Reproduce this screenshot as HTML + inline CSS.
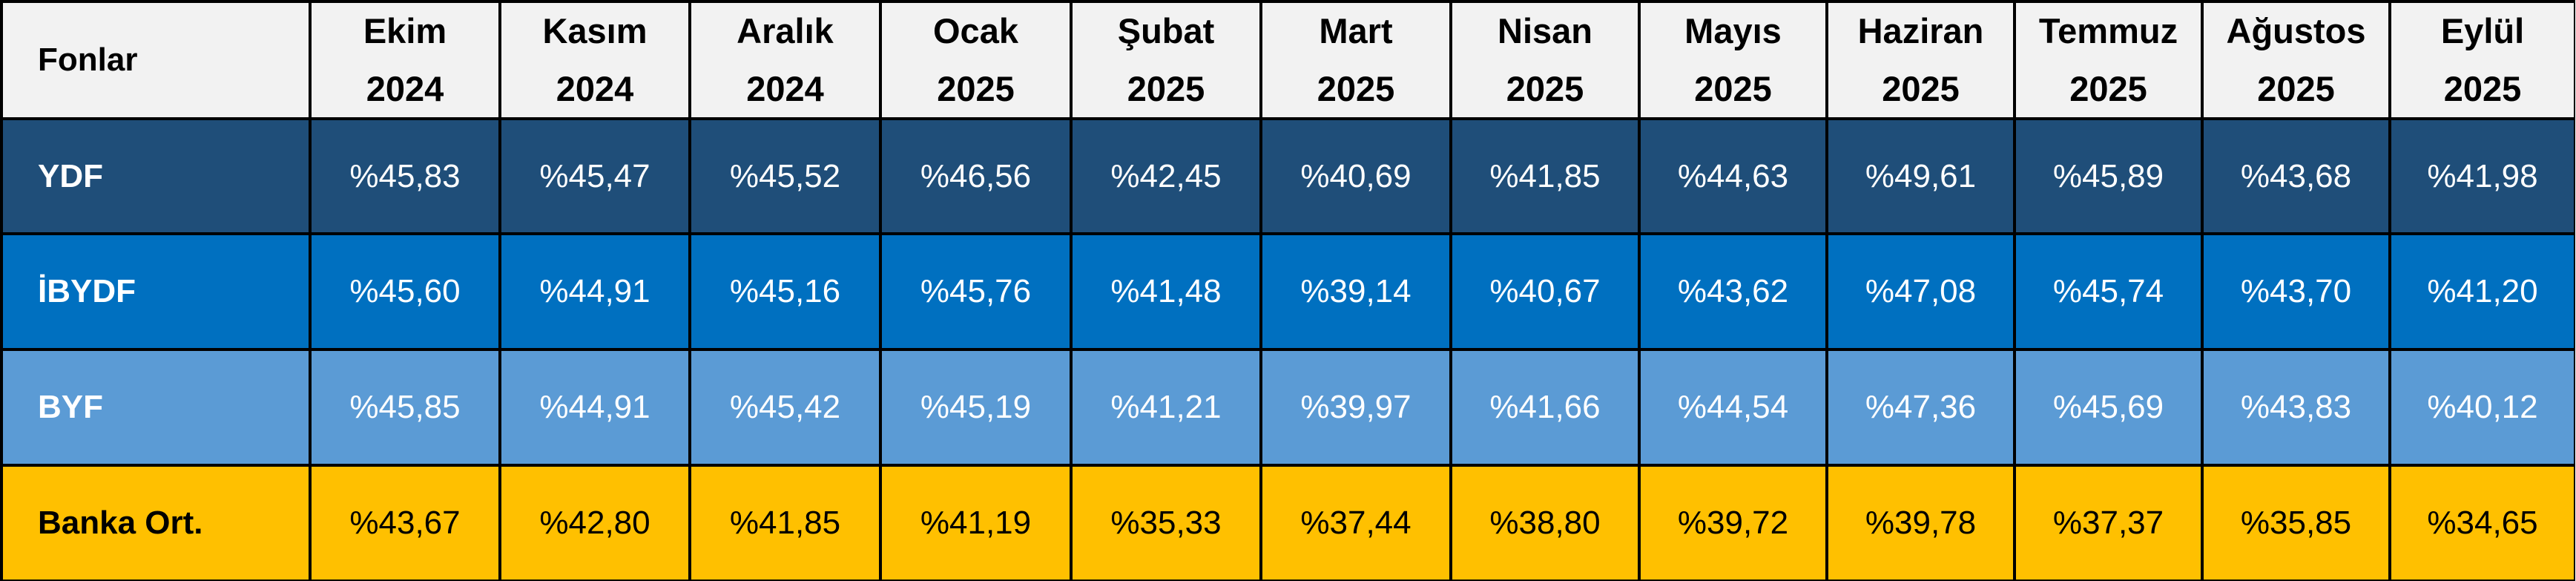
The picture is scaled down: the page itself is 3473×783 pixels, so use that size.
<!DOCTYPE html>
<html><head><meta charset="utf-8"><style>
html,body{margin:0;padding:0;background:#fff;}
#t{position:absolute;left:0;top:0;width:3472px;height:783px;background:#000;overflow:hidden;font-family:"Liberation Sans",Arial,sans-serif;}
.c{position:absolute;display:flex;align-items:center;justify-content:center;text-align:center;box-sizing:border-box;}
.h{background:#f2f2f2;color:#000;font-weight:bold;font-size:47px;line-height:78px;}
.v{font-size:44px;}
.l{justify-content:flex-start;padding-left:47px;font-weight:bold;font-size:44px;}
</style></head><body><div id="t"></div>
<script>
var xs=[0,416,672,928,1185,1442,1698,1954,2208,2461,2714,2967,3220,3470];
var ys=[0,158,313,469,625,781];
var hdr=["Fonlar","Ekim<br>2024","Kasım<br>2024","Aralık<br>2024","Ocak<br>2025","Şubat<br>2025","Mart<br>2025","Nisan<br>2025","Mayıs<br>2025","Haziran<br>2025","Temmuz<br>2025","Ağustos<br>2025","Eylül<br>2025"];
var rows=[
["YDF","#1f4e79","#fff",["45,83","45,47","45,52","46,56","42,45","40,69","41,85","44,63","49,61","45,89","43,68","41,98"]],
["İBYDF","#0070c0","#fff",["45,60","44,91","45,16","45,76","41,48","39,14","40,67","43,62","47,08","45,74","43,70","41,20"]],
["BYF","#5b9bd5","#fff",["45,85","44,91","45,42","45,19","41,21","39,97","41,66","44,54","47,36","45,69","43,83","40,12"]],
["Banka Ort.","#ffc000","#000",["43,67","42,80","41,85","41,19","35,33","37,44","38,80","39,72","39,78","37,37","35,85","34,65"]]];
var t=document.getElementById('t'),h='';
function cell(ci,ri,cls,bg,col,txt){
 var x=xs[ci]+4,y=ys[ri]+4,w=xs[ci+1]-x,hh=ys[ri+1]-y;
 h+='<div class="c '+cls+'" style="left:'+x+'px;top:'+y+'px;width:'+w+'px;height:'+hh+'px;background:'+bg+';color:'+col+'">'+txt+'</div>';
}
for(var i=0;i<13;i++)cell(i,0,'h'+(i==0?' l':''),'#f2f2f2','#000',hdr[i]);
for(var r=0;r<4;r++){var R=rows[r];cell(0,r+1,'l',R[1],R[2],R[0]);
 for(var i=0;i<12;i++)cell(i+1,r+1,'v',R[1],R[2],'%'+R[3][i]);}
t.innerHTML=h;
</script></body></html>
